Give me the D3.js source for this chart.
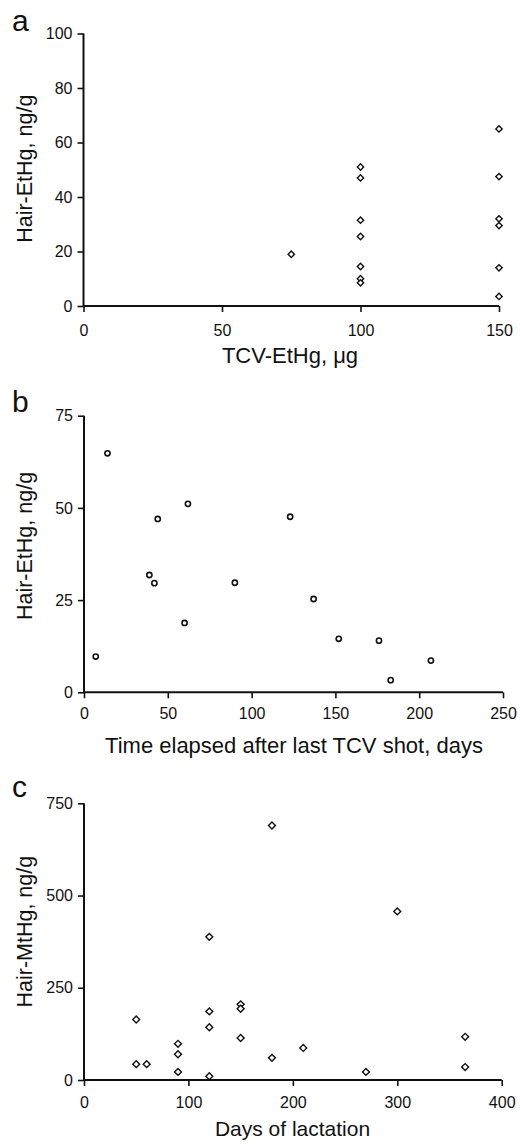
<!DOCTYPE html>
<html>
<head>
<meta charset="utf-8">
<script src="https://cdn.jsdelivr.net/npm/d3@7"></script>
<style>
  html, body { margin: 0; padding: 0; background: #fff; }
  svg { display: block; }
  text { font-family: "Liberation Sans", Arial, sans-serif; fill: #111; }
</style>
</head>
<body>
<svg id="chart" width="520" height="1144"></svg>
<script>
// ---- Panel a data: TCV-EtHg (µg) vs Hair-EtHg (ng/g)
const aX = [75, 100, 100, 100, 100, 100, 100, 100, 150, 150, 150, 150, 150, 150];
const aY = [19, 51, 47, 31.5, 25.5, 14.5, 10, 8.5, 65, 47.5, 32, 29.5, 14, 3.5];
const aXTicks = [0, 50, 100, 150];
const aYTicks = [0, 20, 40, 60, 80, 100];

// ---- Panel b data: time elapsed after last TCV shot (days) vs Hair-EtHg (ng/g)
const bX = [7, 14, 39, 42, 44, 60, 62, 90, 123, 137, 152, 176, 183, 207];
const bY = [9.7, 64.8, 31.8, 29.6, 47, 18.8, 51.1, 29.7, 47.6, 25.3, 14.5, 14, 3.3, 8.6];
const bXTicks = [0, 50, 100, 150, 200, 250];
const bYTicks = [0, 25, 50, 75];

// ---- Panel c data: days of lactation vs Hair-MtHg (ng/g)
const cX = [50, 50, 60, 90, 90, 90, 120, 120, 120, 120, 150, 150, 150, 180, 180, 210, 270, 300, 365, 365];
const cY = [164, 43, 43, 98, 70, 22, 388, 186, 143, 10, 205, 193, 114, 690, 60, 87, 22, 457, 117, 35];
const cXTicks = [0, 100, 200, 300, 400];
const cYTicks = [0, 250, 500, 750];

const labels = {
  a: { panel: "a", x: "TCV-EtHg, μg", y: "Hair-EtHg, ng/g" },
  b: { panel: "b", x: "Time elapsed after last TCV shot, days", y: "Hair-EtHg, ng/g" },
  c: { panel: "c", x: "Days of lactation", y: "Hair-MtHg, ng/g" }
};

const svg = d3.select("#chart");

function panel(cfg) {
  const g = svg.append("g");
  const x = d3.scaleLinear().domain(cfg.xDomain).range([cfg.left, cfg.right]);
  const y = d3.scaleLinear().domain(cfg.yDomain).range([cfg.bottom, cfg.top]);

  const xAxis = g.append("g")
    .attr("transform", `translate(0,${cfg.bottom})`)
    .call(d3.axisBottom(x).tickValues(cfg.xTicks).tickSize(6).tickPadding(cfg.xPad).tickFormat(d3.format("d")));
  const yAxis = g.append("g")
    .attr("transform", `translate(${cfg.left},0)`)
    .call(d3.axisLeft(y).tickValues(cfg.yTicks).tickSize(6).tickPadding(5).tickFormat(d3.format("d")));

  [xAxis, yAxis].forEach(ax => {
    ax.select(".domain").attr("stroke", "#111").attr("stroke-width", 2)
      .attr("d", function () { return d3.select(this).attr("d"); });
    ax.selectAll(".tick line").attr("stroke", "#111").attr("stroke-width", 1.6);
    ax.selectAll(".tick text").attr("font-size", 16).attr("fill", "#111")
      .style("font-family", '"Liberation Sans", Arial, sans-serif');
  });
  // remove outer tick stubs of domain path: draw plain lines instead
  xAxis.select(".domain").attr("d", `M${cfg.left},0H${cfg.right}`);
  yAxis.select(".domain").attr("d", `M0,${cfg.bottom}V${cfg.top}`);

  // markers
  const pts = cfg.xs.map((v, i) => [v, cfg.ys[i]]);
  if (cfg.marker === "circle") {
    g.append("g").selectAll("circle").data(pts).join("circle")
      .attr("cx", d => x(d[0])).attr("cy", d => y(d[1]))
      .attr("r", 2.6)
      .attr("fill", "#fff").attr("stroke", "#111").attr("stroke-width", 1.6);
  } else {
    const sym = d3.symbol().type(d3.symbolSquare).size(cfg.msize);
    g.append("g").selectAll("path").data(pts).join("path")
      .attr("d", sym)
      .attr("transform", d => `translate(${x(d[0])},${y(d[1])}) rotate(45)`)
      .attr("fill", "#fff").attr("stroke", "#111").attr("stroke-width", 1.4);
  }

  // panel letter
  g.append("text").attr("x", 12).attr("y", cfg.letterY)
    .attr("font-size", 30).text(cfg.text.panel);

  // x title
  g.append("text").attr("x", cfg.xTitleX).attr("y", cfg.xTitleY)
    .attr("text-anchor", "middle").attr("font-size", cfg.xTitleSize).text(cfg.text.x);

  // y title
  g.append("text")
    .attr("transform", `translate(31.5,${(cfg.top + cfg.bottom) / 2 + cfg.yTitleShift}) rotate(-90)`)
    .attr("text-anchor", "middle").attr("font-size", 21.5).text(cfg.text.y);
}

panel({
  xs: aX, ys: aY, xDomain: [0, 150], yDomain: [0, 100], xTicks: aXTicks, yTicks: aYTicks,
  left: 83.5, right: 499, top: 33.5, bottom: 306, xPad: 13,
  marker: "diamond", msize: 20, letterY: 31,
  xTitleX: 290, xTitleY: 363, xTitleSize: 22, yTitleShift: -1, text: labels.a
});

panel({
  xs: bX, ys: bY, xDomain: [0, 250], yDomain: [0, 75], xTicks: bXTicks, yTicks: bYTicks,
  left: 84, right: 503, top: 415.7, bottom: 692.3, xPad: 9,
  marker: "circle", letterY: 412,
  xTitleX: 294, xTitleY: 753, xTitleSize: 22, yTitleShift: -8, text: labels.b
});

panel({
  xs: cX, ys: cY, xDomain: [0, 400], yDomain: [0, 750], xTicks: cXTicks, yTicks: cYTicks,
  left: 84, right: 501.7, top: 803.3, bottom: 1080, xPad: 11,
  marker: "diamond", msize: 24, letterY: 797,
  xTitleX: 292.5, xTitleY: 1136, xTitleSize: 21, yTitleShift: -10, text: labels.c
});
</script>
</body>
</html>
